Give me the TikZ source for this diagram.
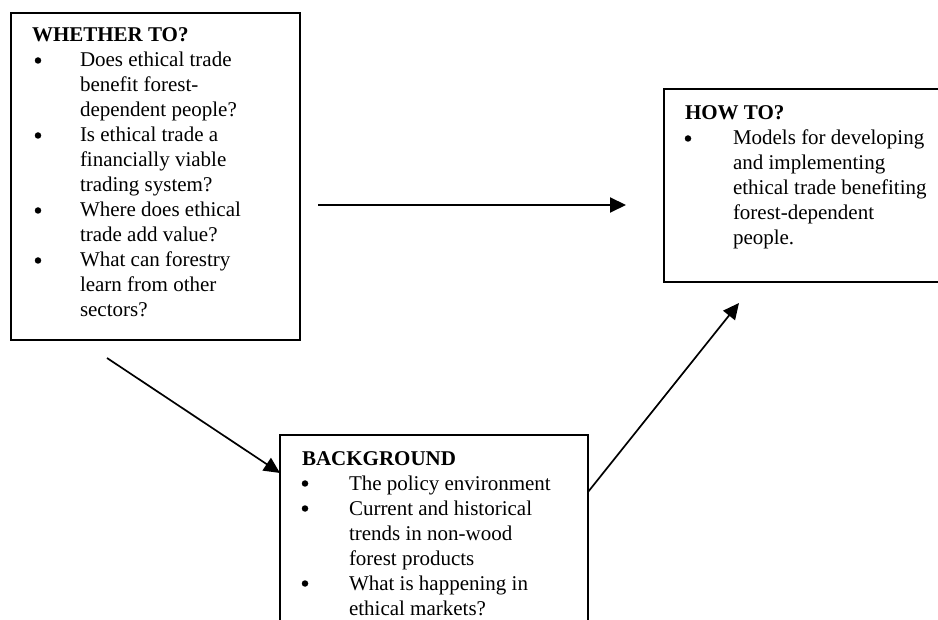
\documentclass[tikz,border=0pt]{standalone}
\usepackage{fontspec}
\setmainfont{Liberation Serif}
\usetikzlibrary{arrows.meta}
\begin{document}
\begin{tikzpicture}[x=1pt,y=-1pt,
  box/.style={draw=black,line width=1.9pt,fill=white,inner sep=0pt,outer sep=0pt},
  txt/.style={anchor=base west,inner sep=0pt,outer sep=0pt,font=\fontsize{21}{25}\selectfont},
  head/.style={txt,font=\fontsize{21}{25}\selectfont\bfseries},
  bul/.style={circle,fill=black,inner sep=0pt,outer sep=0pt,minimum size=6.5pt},
  conn/.style={draw=black,line width=1.7pt,-{Triangle[length=16pt,width=15pt]}}]
\useasboundingbox (0,0) rectangle (938,620);
\clip (0,0) rectangle (938,620);
\fill[white] (0,0) rectangle (938,620);
% boxes
\node[box,minimum width=289pt,minimum height=327pt] (b1) at (155.5,176.5) {};
\node[box,minimum width=296pt,minimum height=193pt] (b2) at (812,185.5) {};
\node[box,minimum width=308pt,minimum height=205pt] (b3) at (434,537.5) {};
% box 1 text
\node[head] (h1) at (32,42) {WHETHER TO?};
\foreach \y [count=\k] in {67,142,217,267} \node[bul] (p1\k) at (38,\y-6.5) {};
\foreach \t [count=\i from 0] in {Does ethical trade,benefit forest-,dependent people?,Is ethical trade a,financially viable,trading system?,Where does ethical,trade add value?,What can forestry,learn from other,sectors?}
  \node[txt] (w\i) at (80,67+25*\i) {\t};
% box 2 text
\node[head] (h2) at (685,120) {HOW TO?};
\node[bul] (p21) at (688,145-6.5) {};
\foreach \t [count=\i from 0] in {Models for developing,and implementing,ethical trade benefiting,forest-dependent,people.}
  \node[txt] (m\i) at (733,145+25*\i) {\t};
% box 3 text
\node[head] (h3) at (302,465) {BACKGROUND};
\foreach \y [count=\k] in {490,515,590} \node[bul] (p3\k) at (305,\y-6.5) {};
\foreach \t [count=\i from 0] in {The policy environment,Current and historical,trends in non-wood,forest products,What is happening in,ethical markets?}
  \node[txt] (g\i) at (349,490+25*\i) {\t};
% connectors
\coordinate (s1) at (318,205);
\coordinate (e1) at (626,205);
\coordinate (s2) at (107,358);
\coordinate (e2) at (b3.west |- 0,473);
\coordinate (s3) at (b3.east |- 0,492);
\coordinate (e3) at (739,303);
\draw[conn,line width=2pt] (s1) -- (e1);
\draw[conn] (s2) -- (e2);
\draw[conn] (s3) -- (e3);
\end{tikzpicture}
\end{document}
